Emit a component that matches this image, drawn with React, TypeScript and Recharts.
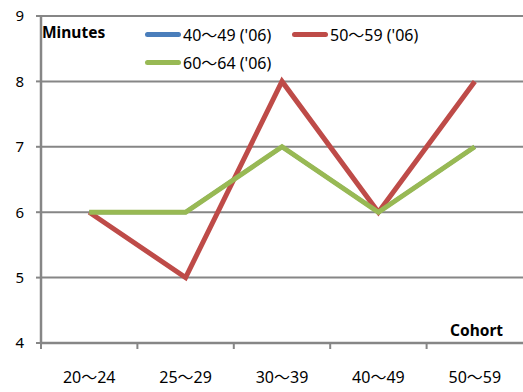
import { LineChart, Line, XAxis, YAxis, CartesianGrid } from "recharts";

document.body.style.margin = "0";

const FONT = "'Noto Sans', 'Noto Sans CJK JP', sans-serif";

const cohorts = ["20〜24", "25〜29", "30〜39", "40〜49", "50〜59"];
const age40to49 = [6, 6, 7, 6, 7];
const age50to59 = [6, 5, 8, 6, 8];
const age60to64 = [6, 6, 7, 6, 7];
const yTicks = [4, 5, 6, 7, 8, 9];

const series = [
  { key: "a", name: "40〜49 ('06)", color: "#4A7EBB", width: 4 },
  { key: "b", name: "50〜59 ('06)", color: "#BE4B48", width: 5 },
  { key: "c", name: "60〜64 ('06)", color: "#98B954", width: 5 },
];

const data = cohorts.map((cohort, i) => ({
  cohort,
  a: age40to49[i],
  b: age50to59[i],
  c: age60to64[i],
}));

const WIDTH = 523;
const HEIGHT = 392;
const PLOT_LEFT = 41;
const BAND = (WIDTH - PLOT_LEFT) / cohorts.length;
const AXIS = "#868686";

// category label in the middle of the band, tick mark on the band's left edge
const CohortTick = (props: any) => {
  const { x, y, payload } = props;
  const edge = x - BAND / 2;
  return (
    <g>
      <line x1={edge} y1={y} x2={edge} y2={y + 6} stroke={AXIS} strokeWidth={2} />
      <text
        x={x}
        y={y + 36}
        textAnchor="middle"
        dominantBaseline="middle"
        fill="#000"
        fontSize={16}
        fontFamily={FONT}
      >
        {payload.value}
      </text>
    </g>
  );
};

const LegendBox = () => (
  <div
    style={{
      position: "absolute",
      left: 145,
      top: 20,
      display: "flex",
      flexWrap: "wrap",
      width: 300,
      fontFamily: FONT,
      fontSize: 16,
    }}
  >
    {series.map((s) => (
      <div key={s.key} style={{ width: 147, height: 28, display: "flex", alignItems: "center" }}>
        <span
          style={{
            display: "inline-block",
            width: 36,
            height: 5,
            borderRadius: 3,
            background: s.color,
            marginRight: 2,
          }}
        />
        <span>{s.name}</span>
      </div>
    ))}
  </div>
);

export default function App() {
  return (
    <div style={{ position: "relative", width: WIDTH, height: HEIGHT, background: "#fff" }}>
      <LineChart
        width={WIDTH}
        height={HEIGHT}
        data={data}
        margin={{ top: 16, right: 0, left: 0, bottom: 0 }}
      >
        <CartesianGrid vertical={false} stroke={AXIS} strokeWidth={2} />
        <XAxis
          dataKey="cohort"
          scale="band"
          height={49}
          axisLine={{ stroke: AXIS, strokeWidth: 2.5 }}
          tickLine={false}
          tickSize={0}
          tickMargin={0}
          interval={0}
          tick={<CohortTick />}
        />
        <YAxis
          width={PLOT_LEFT}
          domain={[4, 9]}
          ticks={yTicks}
          axisLine={{ stroke: AXIS, strokeWidth: 2.5 }}
          tickLine={{ stroke: AXIS, strokeWidth: 2 }}
          tickSize={5}
          tickMargin={12}
          tick={{ fill: "#000", fontSize: 15, fontFamily: FONT }}
        />
        {series.map((s) => (
          <Line
            key={s.key}
            dataKey={s.key}
            name={s.name}
            stroke={s.color}
            strokeWidth={s.width}
            dot={false}
            activeDot={false}
            isAnimationActive={false}
          />
        ))}
      </LineChart>
      <LegendBox />
      <div
        style={{
          position: "absolute",
          left: 42,
          top: 21,
          fontFamily: FONT,
          fontSize: 15.5,
          fontWeight: "bold",
        }}
      >
        Minutes
      </div>
      <div
        style={{
          position: "absolute",
          left: 450,
          top: 319,
          fontFamily: FONT,
          fontSize: 15.5,
          fontWeight: "bold",
        }}
      >
        Cohort
      </div>
    </div>
  );
}
